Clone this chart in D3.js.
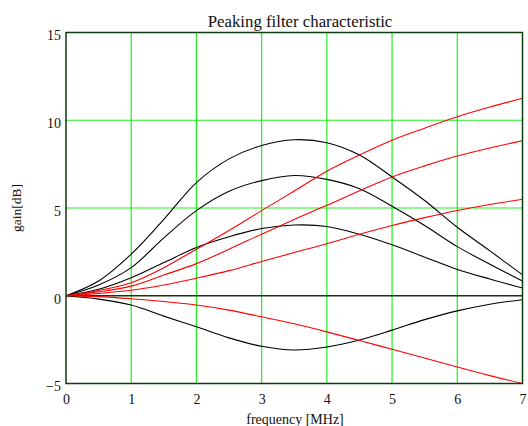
<!DOCTYPE html>
<html>
<head>
<meta charset="utf-8">
<script src="https://cdn.jsdelivr.net/npm/d3@7"></script>
<style>
    html, body { margin: 0; padding: 0; background: #fff; }
    svg { display: block; }
    text { font-family: "Liberation Serif", "Times New Roman", serif; fill: #111; }
</style>
</head>
<body>
<div id="chart"></div>
<script>
// Frequency samples (MHz)
const freq = [0, 0.5, 1, 1.5, 2, 2.5, 3, 3.5, 4, 4.5, 5, 5.5, 6, 6.5, 7];

// Peaking filter responses (black)
const peak1 = [0, 0.84, 2.37, 4.35, 6.45, 7.8, 8.56, 8.89, 8.72, 8.02, 6.77, 5.43, 3.9, 2.56, 1.19];
const peak2 = [0, 0.61, 1.6, 3.3, 4.85, 5.95, 6.56, 6.85, 6.63, 6.1, 5.1, 4.0, 2.8, 1.8, 0.84];
const peak3 = [0, 0.37, 1.03, 1.89, 2.75, 3.36, 3.83, 4.03, 3.95, 3.5, 2.9, 2.2, 1.5, 0.95, 0.44];
const peak4 = [0, -0.19, -0.53, -1.16, -1.77, -2.4, -2.88, -3.09, -2.92, -2.52, -1.96, -1.36, -0.86, -0.48, -0.23];

// Shelving-like responses (red)
const shelf1 = [0, 0.3, 0.74, 1.6, 2.65, 3.72, 4.85, 5.97, 7.1, 8.02, 8.86, 9.55, 10.2, 10.75, 11.25];
const shelf2 = [0, 0.22, 0.55, 1.18, 1.83, 2.65, 3.51, 4.35, 5.15, 5.98, 6.77, 7.4, 7.96, 8.42, 8.83];
const shelf3 = [0, 0.13, 0.31, 0.61, 1.0, 1.43, 1.95, 2.46, 2.96, 3.5, 4.0, 4.45, 4.86, 5.2, 5.5];
const shelf4 = [0, -0.05, -0.17, -0.33, -0.53, -0.82, -1.2, -1.6, -2.06, -2.55, -3.05, -3.55, -4.06, -4.55, -5.0];

// Axis ticks
const xTicks = [0, 1, 2, 3, 4, 5, 6, 7];
const yTicks = [-5, 0, 5, 10, 15];
const yGrid = [5, 10];

const W = 528, H = 426;
const margin = { top: 32.5, right: 5.5, bottom: 42.5, left: 66 };
const width = W - margin.left - margin.right;
const height = H - margin.top - margin.bottom;

const svg = d3.select('#chart').append('svg')
    .attr('width', W)
    .attr('height', H);

const g = svg.append('g')
    .attr('transform', `translate(${margin.left},${margin.top})`);

// Scales
const x = d3.scaleLinear().domain([0, 7]).range([0, width]);
const y = d3.scaleLinear().domain([-5, 15]).range([height, 0]);

// Clip for curves
g.append('clipPath')
    .attr('id', 'plot-clip')
    .append('rect')
    .attr('width', width)
    .attr('height', height);

// Green grid lines
g.append('g')
    .selectAll('line')
    .data(xTicks.slice(1, -1))
    .enter()
    .append('line')
    .attr('x1', d => x(d))
    .attr('x2', d => x(d))
    .attr('y1', 0)
    .attr('y2', height)
    .attr('stroke', '#22ee22')
    .attr('stroke-width', 1.2);

g.append('g')
    .selectAll('line')
    .data(yGrid)
    .enter()
    .append('line')
    .attr('x1', 0)
    .attr('x2', width)
    .attr('y1', d => y(d))
    .attr('y2', d => y(d))
    .attr('stroke', '#22ee22')
    .attr('stroke-width', 1.2);

// Zero line
g.append('line')
    .attr('x1', 0)
    .attr('x2', width)
    .attr('y1', y(0))
    .attr('y2', y(0))
    .attr('stroke', '#0c3d0c')
    .attr('stroke-width', 1.5);

// Curves
const line = d3.line()
    .x((d, i) => x(freq[i]))
    .y(d => y(d))
    .curve(d3.curveCatmullRom.alpha(0.5));

const series = [
    { values: peak1, color: '#000' },
    { values: peak2, color: '#000' },
    { values: peak3, color: '#000' },
    { values: peak4, color: '#000' },
    { values: shelf1, color: '#ff0000' },
    { values: shelf2, color: '#ff0000' },
    { values: shelf3, color: '#ff0000' },
    { values: shelf4, color: '#ff0000' }
];

const curves = g.append('g').attr('clip-path', 'url(#plot-clip)');
series.forEach(s => {
    curves.append('path')
        .datum(s.values)
        .attr('d', line)
        .attr('fill', 'none')
        .attr('stroke', s.color)
        .attr('stroke-width', 1.1);
});

// Frame
g.append('rect')
    .attr('width', width)
    .attr('height', height)
    .attr('fill', 'none')
    .attr('stroke', '#0c3d0c')
    .attr('stroke-width', 1.5);

// X axis labels
const xAxis = g.append('g')
    .attr('transform', `translate(0,${height})`)
    .call(d3.axisBottom(x).tickValues(xTicks).tickSize(0).tickPadding(11)
        .tickFormat(d3.format('d')));
xAxis.select('.domain').remove();
xAxis.selectAll('text')
    .style('font-family', '"Liberation Serif", serif')
    .style('font-size', '14px')
    .style('fill', '#111');

// Y axis labels
const yAxis = g.append('g')
    .call(d3.axisLeft(y).tickValues(yTicks).tickSize(0).tickPadding(5)
        .tickFormat(d => d < 0 ? '\u2212' + Math.abs(d) : String(d)));
yAxis.select('.domain').remove();
yAxis.selectAll('text')
    .attr('dy', '0.52em')
    .style('font-family', '"Liberation Serif", serif')
    .style('font-size', '14px')
    .style('fill', '#111');

// Title
svg.append('text')
    .attr('x', 300)
    .attr('y', 27)
    .attr('text-anchor', 'middle')
    .style('font-size', '16.8px')
    .text('Peaking filter characteristic');

// Axis titles
svg.append('text')
    .attr('x', 295)
    .attr('y', 424)
    .attr('text-anchor', 'middle')
    .style('font-size', '14px')
    .text('frequency [MHz]');

svg.append('text')
    .attr('transform', 'translate(21,208) rotate(-90)')
    .attr('text-anchor', 'middle')
    .style('font-size', '13.5px')
    .text('gain[dB]');
</script>
</body>
</html>
